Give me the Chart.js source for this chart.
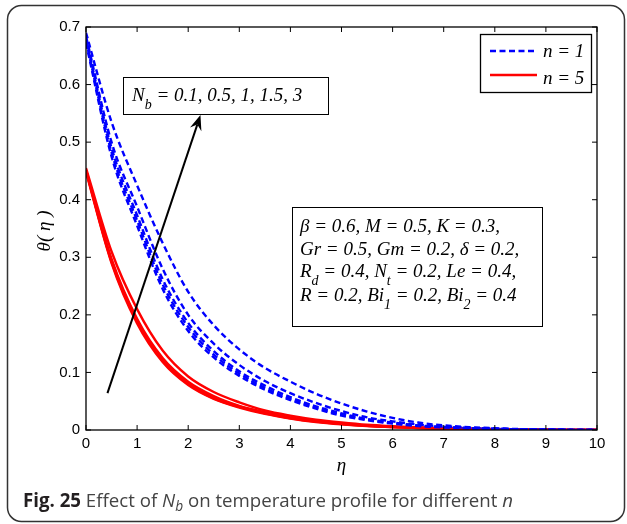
<!DOCTYPE html>
<html><head><meta charset="utf-8">
<script src="https://cdn.jsdelivr.net/npm/chart.js@4.4.1/dist/chart.umd.min.js"></script>
<style>html,body{margin:0;padding:0;background:#fff}canvas{display:block}</style>
</head><body>
<canvas id="c" width="627" height="524"></canvas>
<script>
// ---- data ----
const eta = [0,0.5,1,1.5,2,2.5,3,3.5,4,4.5,5,5.5,6,6.5,7,7.5,8,8.5,9,9.5,10];
const nbValues = ['0.1','0.5','1','1.5','3'];
// n = 1 (blue dashed), one array per Nb
const blueNb01 = [0.672,0.475,0.355,0.245,0.172,0.126,0.094,0.070,0.052,0.037,0.025,0.017,0.011,0.007,0.0045,0.003,0.0018,0.001,0.0005,0.0002,0];
const blueNb05 = [0.676,0.482,0.364,0.253,0.179,0.131,0.098,0.073,0.054,0.039,0.027,0.018,0.012,0.0075,0.005,0.0032,0.002,0.0011,0.0006,0.0002,0];
const blueNb1  = [0.680,0.490,0.373,0.262,0.186,0.137,0.102,0.077,0.057,0.041,0.029,0.019,0.013,0.008,0.0052,0.0034,0.0021,0.0012,0.0006,0.0002,0];
const blueNb15 = [0.684,0.500,0.388,0.280,0.200,0.150,0.113,0.085,0.064,0.047,0.033,0.022,0.015,0.0095,0.006,0.0038,0.0023,0.0013,0.0007,0.0003,0];
const blueNb3  = [0.690,0.535,0.425,0.325,0.240,0.182,0.140,0.108,0.084,0.063,0.046,0.032,0.021,0.013,0.008,0.005,0.003,0.0015,0.0007,0.0003,0];
// n = 5 (red solid)
const redNb01 = [0.448,0.290,0.185,0.118,0.078,0.054,0.039,0.028,0.020,0.014,0.010,0.007,0.005,0.0035,0.0025,0.0017,0.0011,0.0007,0.0004,0.0002,0];
const redNb05 = [0.450,0.292,0.188,0.120,0.080,0.055,0.040,0.029,0.0205,0.0145,0.0103,0.0072,0.0052,0.0036,0.0026,0.0018,0.0011,0.0007,0.0004,0.0002,0];
const redNb1  = [0.451,0.294,0.190,0.122,0.082,0.057,0.041,0.030,0.021,0.015,0.0106,0.0075,0.0053,0.0037,0.0027,0.0018,0.0012,0.0007,0.0004,0.0002,0];
const redNb15 = [0.452,0.297,0.193,0.125,0.084,0.059,0.042,0.031,0.022,0.0155,0.011,0.0078,0.0055,0.0038,0.0028,0.0019,0.0012,0.0007,0.0004,0.0002,0];
const redNb3  = [0.455,0.310,0.210,0.138,0.093,0.066,0.048,0.034,0.025,0.018,0.013,0.009,0.0065,0.0046,0.0033,0.0023,0.0015,0.0009,0.0005,0.0002,0];
const xTickLabels = ['0','1','2','3','4','5','6','7','8','9','10'];
const yTickLabels = ['0','0.1','0.2','0.3','0.4','0.5','0.6','0.7'];
const legendLabels = ['n = 1','n = 5'];

const BLUE = '#0000ff', RED = '#ff0000';
const SERIF = '"Liberation Serif", "Times New Roman", serif';
const SANS = '"Liberation Sans", Arial, sans-serif';

function pts(arr){ return eta.map((x,i)=>({x:x,y:arr[i]})); }
const blueSets = [blueNb01,blueNb05,blueNb1,blueNb15,blueNb3];
const redSets = [redNb01,redNb05,redNb1,redNb15,redNb3];
const datasets = [];
blueSets.forEach((a,i)=>datasets.push({label:'n = 1, Nb = '+nbValues[i], data:pts(a), borderColor:BLUE, borderWidth:2.4, borderDash:[6,3.5], pointRadius:0, cubicInterpolationMode:'monotone', fill:false}));
redSets.forEach((a,i)=>datasets.push({label:'n = 5, Nb = '+nbValues[i], data:pts(a), borderColor:RED, borderWidth:2.4, pointRadius:0, cubicInterpolationMode:'monotone', fill:false}));

function drawRich(ctx, x, y, segs, align){
  let w = 0;
  segs.forEach(s=>{ ctx.font = s.f; w += ctx.measureText(s.t).width; });
  let cx = align==='center' ? x - w/2 : x;
  segs.forEach(s=>{
    ctx.font = s.f; ctx.fillStyle = s.c || '#000';
    ctx.fillText(s.t, cx, y + (s.dy||0));
    cx += ctx.measureText(s.t).width;
  });
  return w;
}
const IT = 'italic 19px '+SERIF, SUB = 'italic 14px '+SERIF;

const deco = {
  id:'deco',
  beforeDraw(chart){
    const ctx = chart.ctx;
    ctx.save(); ctx.fillStyle='#fff'; ctx.fillRect(0,0,chart.width,chart.height); ctx.restore();
  },
  afterDraw(chart){
    const ctx = chart.ctx, a = chart.chartArea, xs = chart.scales.x, ys = chart.scales.y;
    ctx.save();
    // plot frame
    ctx.strokeStyle='#000'; ctx.lineWidth=1.3;
    ctx.strokeRect(a.left, a.top, a.right-a.left, a.bottom-a.top);
    // inward ticks on all four sides
    ctx.lineWidth=1;
    xs.ticks.forEach(t=>{ const px = xs.getPixelForValue(t.value);
      ctx.beginPath(); ctx.moveTo(px,a.bottom); ctx.lineTo(px,a.bottom-5); ctx.moveTo(px,a.top); ctx.lineTo(px,a.top+5); ctx.stroke(); });
    ys.ticks.forEach(t=>{ const py = ys.getPixelForValue(t.value);
      ctx.beginPath(); ctx.moveTo(a.left,py); ctx.lineTo(a.left+5,py); ctx.moveTo(a.right,py); ctx.lineTo(a.right-5,py); ctx.stroke(); });

    // arrow (data coordinates)
    const x0 = xs.getPixelForValue(0.42), y0 = ys.getPixelForValue(0.064);
    const x1 = xs.getPixelForValue(2.24), y1 = ys.getPixelForValue(0.547);
    const ang = Math.atan2(y1-y0, x1-x0);
    ctx.strokeStyle='#000'; ctx.fillStyle='#000'; ctx.lineWidth=2;
    ctx.beginPath(); ctx.moveTo(x0,y0); ctx.lineTo(x1-10*Math.cos(ang), y1-10*Math.sin(ang)); ctx.stroke();
    ctx.beginPath();
    ctx.moveTo(x1,y1);
    ctx.lineTo(x1-15*Math.cos(ang)+6*Math.sin(ang), y1-15*Math.sin(ang)-6*Math.cos(ang));
    ctx.lineTo(x1-10*Math.cos(ang), y1-10*Math.sin(ang));
    ctx.lineTo(x1-15*Math.cos(ang)-6*Math.sin(ang), y1-15*Math.sin(ang)+6*Math.cos(ang));
    ctx.closePath(); ctx.fill();

    // Nb box
    ctx.textBaseline='alphabetic'; ctx.textAlign='left';
    ctx.fillStyle='#fff'; ctx.fillRect(123,77,205,37);
    ctx.strokeStyle='#000'; ctx.lineWidth=1; ctx.strokeRect(123.5,77.5,205,37);
    drawRich(ctx, 132, 101, [{t:'N',f:IT},{t:'b',f:SUB,dy:8},{t:' = '+nbValues.join(', '),f:IT}]);

    // parameter box
    ctx.fillStyle='#fff'; ctx.fillRect(292,207,250,119);
    ctx.strokeRect(292.5,207.5,250,119);
    drawRich(ctx, 300, 232, [{t:'\u03b2 = 0.6, M = 0.5, K = 0.3,',f:IT}]);
    drawRich(ctx, 300, 255, [{t:'Gr = 0.5, Gm = 0.2, \u03b4 = 0.2,',f:IT}]);
    drawRich(ctx, 300, 277, [{t:'R',f:IT},{t:'d',f:SUB,dy:8},{t:' = 0.4, N',f:IT},{t:'t',f:SUB,dy:8},{t:' = 0.2, Le = 0.4,',f:IT}]);
    drawRich(ctx, 300, 301, [{t:'R = 0.2, Bi',f:IT},{t:'1',f:SUB,dy:8},{t:' = 0.2, Bi',f:IT},{t:'2',f:SUB,dy:8},{t:' = 0.4',f:IT}]);

    // legend
    ctx.fillStyle='#fff'; ctx.fillRect(480,34,111,58);
    ctx.lineWidth=1.3; ctx.strokeRect(480.5,34.5,111,58);
    ctx.lineWidth=2.4;
    ctx.strokeStyle=BLUE; ctx.setLineDash([6,3.5]);
    ctx.beginPath(); ctx.moveTo(490,51); ctx.lineTo(536,51); ctx.stroke();
    ctx.setLineDash([]); ctx.strokeStyle=RED;
    ctx.beginPath(); ctx.moveTo(490,75); ctx.lineTo(537,75); ctx.stroke();
    drawRich(ctx, 543, 57, [{t:legendLabels[0],f:IT}]);
    drawRich(ctx, 543, 84, [{t:legendLabels[1],f:IT}]);

    // axis titles
    drawRich(ctx, (a.left+a.right)/2, 471, [{t:'\u03b7',f:'italic 19px '+SERIF}], 'center');
    ctx.save(); ctx.translate(50, 231); ctx.rotate(-Math.PI/2);
    drawRich(ctx, 0, 0, [{t:'\u03b8( \u03b7 )',f:'italic 19px '+SERIF}], 'center');
    ctx.restore();

    // caption
    const CAP = '"Open Sans", "Noto Sans", sans-serif';
    const segs = [
      {t:'Fig. 25',f:'bold 19px '+CAP,c:'#231f20'},
      {t:' Effect of ',f:'19px '+CAP,c:'#444'},
      {t:'N',f:'italic 19px '+CAP,c:'#444'},
      {t:'b',f:'italic 14px '+CAP,c:'#444',dy:4},
      {t:' on temperature profile for different ',f:'19px '+CAP,c:'#444'},
      {t:'n',f:'italic 19px '+CAP,c:'#444'}];
    let w=0; segs.forEach(s=>{ctx.font=s.f; w+=ctx.measureText(s.t).width;});
    ctx.save(); ctx.translate(23,507); ctx.scale(490/w,1);
    drawRich(ctx, 0, 0, segs);
    ctx.restore();

    // outer rounded frame
    ctx.strokeStyle='#333'; ctx.lineWidth=1.5;
    ctx.beginPath(); ctx.roundRect(7.5,5.5,617,516,14); ctx.stroke();
    ctx.restore();
  }
};

new Chart(document.getElementById('c'), {
  type:'line',
  data:{datasets:datasets},
  options:{
    responsive:false, animation:false, devicePixelRatio:1,
    layout:{padding:{left:0,top:27,right:30,bottom:0}},
    plugins:{legend:{display:false}, tooltip:{enabled:false}},
    scales:{
      x:{type:'linear', min:0, max:10,
         ticks:{stepSize:1, padding:5, color:'#000', font:{family:SANS,size:15}, maxRotation:0,
                callback:(v,i)=>xTickLabels[i]},
         grid:{display:false, drawTicks:false}, border:{display:false},
         afterFit:(s)=>{ s.height = 94; }},
      y:{type:'linear', min:0, max:0.7,
         ticks:{stepSize:0.1, padding:6, color:'#000', font:{family:SANS,size:15},
                callback:(v,i)=>yTickLabels[i]},
         grid:{display:false, drawTicks:false}, border:{display:false},
         afterFit:(s)=>{ s.width = 86; }}
    }
  },
  plugins:[deco]
});
</script>
</body></html>
